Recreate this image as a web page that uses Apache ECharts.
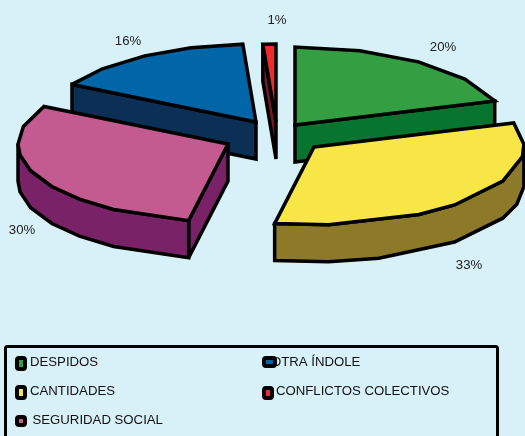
<!DOCTYPE html>
<html>
<head>
<meta charset="utf-8">
<style>html,body{margin:0;padding:0;background:#D8F0F7}#c{width:525px;height:436px}</style>
<script src="https://cdn.jsdelivr.net/npm/echarts@6/dist/echarts.min.js"></script>
</head>
<body>
<div id="c"></div>
<script>
// ---- data ----
const categories = ['DESPIDOS', 'CANTIDADES', 'SEGURIDAD SOCIAL', 'OTRA ÍNDOLE', 'CONFLICTOS COLECTIVOS'];
const values = [20, 33, 30, 16, 1];

// ---- styles ----
const topColors = ['#339E42', '#F7E645', '#C35B90', '#0066A8', '#EE2C2C'];
const sideColors = ['#07752F', '#8C7A28', '#7A2268', '#0C2F55', '#7A1525'];
const FONT = '"Liberation Sans", Arial, sans-serif';

// ---- layout ----
const RX = 210, RY = 78, DEPTH = 37;
const apexes = [[295, 125], [314, 147], [228, 144], [256, 122], [276, 122]];
const drawOrder = [1, 5, 4, 2, 3];
// where each faceted rim bends, in degrees clockwise from 12 o'clock
const rimBends = [
  [18, 36, 54],
  [88, 97, 116, 138, 150, 176],
  [213, 225, 237, 250, 262, 270, 283],
  [313, 328, 342],
  []
];
// bends of the lower rim, where they differ from the upper one
const baseBends = [null, [88, 92, 105, 116, 138, 162, 176], null, null, null];
const labelPos = [[443, 47], [469, 265], [22, 230], [128, 41], [277, 20]];
const legendPos = [
  {tx: 30, ty: 362, sx: 17, sy: 358, sw: 8, sh: 11},
  {tx: 30, ty: 391, sx: 17, sy: 387, sw: 8, sh: 11},
  {tx: 32.5, ty: 420, sx: 17, sy: 417, sw: 8, sh: 8},
  {tx: 271, ty: 362, sx: 264, sy: 358, sw: 11, sh: 8},
  {tx: 276, ty: 391, sx: 264, sy: 388, sw: 8, sh: 10}
];

const total = values.reduce((a, b) => a + b, 0);
const starts = [];
values.reduce((acc, v, i) => { starts[i] = acc; return acc + v; }, 0);
const rad = d => d * Math.PI / 180;

function renderSlice(params, api) {
  const i = params.dataIndex;
  const a0 = starts[i] / total * 360;
  const a1 = (starts[i] + api.value(0)) / total * 360;
  const [cx, cy] = apexes[i];
  const pt = a => [cx + RX * Math.sin(rad(a)), cy - RY * Math.cos(rad(a))];
  const down = p => [p[0], p[1] + DEPTH];
  const angles = [a0, ...rimBends[i], a1];
  const arc = angles.map(pt);
  const stroke = {stroke: '#000', lineWidth: 3.5, lineJoin: 'miter', miterLimit: 3};
  const children = [];
  const z2 = drawOrder[i] * 10;
  const face = (points, fill, dz) => children.push({
    type: 'polygon', z2: z2 + dz, shape: {points},
    style: Object.assign({fill}, stroke)
  });
  const radial = a => {
    const p = pt(a);
    face([[cx, cy], p, down(p), down([cx, cy])], sideColors[i], 0);
  };
  if (Math.sin(rad(a0)) < -1e-6) radial(a0);
  if (Math.sin(rad(a1)) > 1e-6) radial(a1);
  const front = a => a >= 85 && a <= 275;
  const rimTop = angles.filter(front);
  if (rimTop.length > 1) {
    const rimBase = baseBends[i] ? [a0, ...baseBends[i], a1].filter(front) : rimTop;
    face(rimTop.map(pt).concat(rimBase.map(pt).map(down).reverse()), sideColors[i], 1);
  }
  face([[cx, cy], ...arc], topColors[i], 2);
  children.push({
    type: 'text', z2: 100,
    style: {
      x: labelPos[i][0], y: labelPos[i][1], text: api.value(0) + '%',
      fill: '#222', font: '13.2px ' + FONT, align: 'center', verticalAlign: 'middle'
    }
  });
  return {type: 'group', children};
}

const legendItems = [];
legendItems.push({
  type: 'rect', z: 1, shape: {x: 5.5, y: 346.5, width: 492, height: 110, r: 2},
  style: {fill: 'transparent', stroke: '#000', lineWidth: 3}
});
categories.forEach((name, i) => {
  const l = legendPos[i];
  legendItems.push({
    type: 'text', z: 2,
    style: {x: l.tx, y: l.ty, text: name, fill: '#111', font: '13.2px ' + FONT, verticalAlign: 'middle'}
  });
  legendItems.push({
    type: 'rect', z: 3, shape: {x: l.sx, y: l.sy, width: l.sw, height: l.sh, r: 2},
    style: {fill: topColors[i], stroke: '#000', lineWidth: 4, lineJoin: 'round'}
  });
});

const chart = echarts.init(document.getElementById('c'), null, {renderer: 'canvas'});
chart.setOption({
  animation: false,
  backgroundColor: '#D8F0F7',
  graphic: {elements: legendItems},
  series: [{
    type: 'custom',
    coordinateSystem: 'none',
    renderItem: renderSlice,
    data: values.map((v, i) => ({name: categories[i], value: [v]}))
  }]
});
</script>
</body>
</html>
